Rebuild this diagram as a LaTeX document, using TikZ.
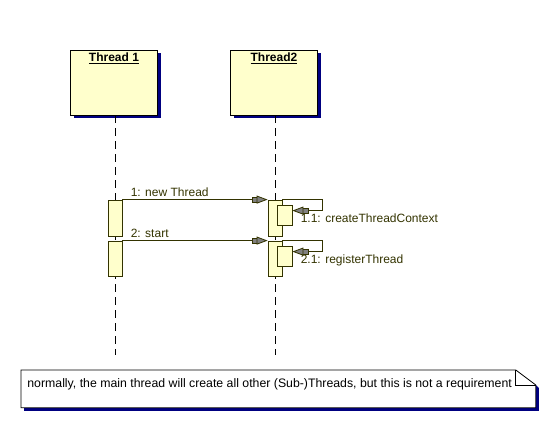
\documentclass[tikz,border=0pt]{standalone}
\usepackage{fontspec}
\setmainfont{Liberation Sans}
\usetikzlibrary{arrows.meta, positioning, shadows}

\definecolor{umlline}{RGB}{51,51,0}
\definecolor{umlfill}{RGB}{255,255,204}
\definecolor{umlshadow}{RGB}{0,0,128}
\definecolor{umltip}{RGB}{128,128,128}

\begin{document}
\begin{tikzpicture}[
    x=1pt, y=-1pt,
    line width=0.8pt,
    every node/.style={
            font=\fontsize{12}{14}\selectfont,
            text=umlline,
            inner sep=2pt
        },
    object_box/.style={
            rectangle,
            draw=black,
            fill=umlfill,
            minimum width=87pt,
            minimum height=65pt,
            drop shadow={shadow xshift=3pt, shadow yshift=-3pt, fill=umlshadow, opacity=1}
        },
    activation/.style={
            rectangle,
            draw=umlline,
            fill=umlfill,
            minimum width=14pt
        },
    lifeline/.style={draw=black, dash pattern=on 8pt off 5pt},
    msg/.style={
            draw=umlline,
            -{Rectangle[length=6pt, width=6pt, fill=umltip, sep=-1pt] Triangle[length=11pt, width=8pt, fill=umltip]}
        },
    note_block/.style={
            rectangle,
            minimum width=514pt,
            minimum height=37pt,
            anchor=north west
        }
    ]

    \useasboundingbox (0,0) rectangle (547,421);

    % --- Objects ---
    \node[object_box,
        label={[anchor=north, yshift=-1pt, text=black, font=\fontsize{12}{14}\selectfont\bfseries]north:\underline{Thread 1}}]
        (thread_one) at (114,82.5) {};
    \node[object_box,
        label={[anchor=north, yshift=-1pt, text=black, font=\fontsize{12}{14}\selectfont\bfseries]north:\underline{Thread2}}]
        (thread_two) at (274,82.5) {};

    % --- Lifelines ---
    \coordinate (end_one) at (115,355);
    \coordinate (end_two) at (275,355);
    \draw[lifeline] (thread_one.south -| end_one) -- (end_one);
    \draw[lifeline] (thread_two.south -| end_two) -- (end_two);

    % --- Activations ---
    \node[activation, minimum height=36pt] (act_one_a) at (115,218) {};
    \node[activation, minimum height=35pt] (act_one_b) at (115,258.5) {};
    \node[activation, minimum height=36pt] (act_two_a) at (275,218) {};
    \node[activation, minimum height=35pt] (act_two_b) at (275,258.5) {};
    \node[activation, minimum width=15pt, minimum height=20pt] (nested_a) at (284.5,215) {};
    \node[activation, minimum width=15pt, minimum height=20pt] (nested_b) at (284.5,256) {};

    % --- Messages ---
    \draw[msg] (act_one_a.north east) --
        node[pos=0, anchor=south west, xshift=6pt, yshift=1pt] (msg_one) {1: new Thread}
        (act_two_a.north west);
    \draw[msg] (act_one_b.north east) --
        node[pos=0, anchor=south west, xshift=6pt, yshift=1pt] (msg_two) {2: start}
        (act_two_b.north west);

    % --- Self calls ---
    \draw[msg] (act_two_a.north east) -- ++(40,0) |- ([yshift=-6pt]nested_a.north east)
        node[anchor=north west, xshift=6pt, yshift=-1pt] (msg_one_one) {1.1: createThreadContext};
    \draw[msg] (act_two_b.north east) -- ++(40,0) |- ([yshift=-6pt]nested_b.north east)
        node[anchor=north west, xshift=6pt, yshift=-1pt] (msg_two_one) {2.1: registerThread};

    % --- Note ---
    \node[note_block] (note) at (21,370) {};
    \fill[umlshadow]
    ([shift={(3,3)}]note.north east) ++(0,15) -- ([shift={(3,3)}]note.south east)
    -- ([shift={(3,3)}]note.south west) -- ([shift={(3,0)}]note.south west)
    -- (note.south east) -- ([yshift=-15pt]note.north east) -- cycle;
    \draw[fill=white, draw=black]
    (note.north west) -- ([xshift=-20pt]note.north east) -- ([yshift=-15pt]note.north east)
    -- (note.south east) -- (note.south west) -- cycle;
    \draw[black] ([xshift=-20pt]note.north east) -- ([xshift=-20pt, yshift=-15pt]note.north east)
    -- ([yshift=-15pt]note.north east);
    \node[anchor=north west, text=black, font=\fontsize{12.3}{14}\selectfont] (note_text)
        at ([shift={(4,6)}]note.north west)
        {normally, the main thread will create all other (Sub-)Threads, but this is not a requirement};

\end{tikzpicture}
\end{document}
